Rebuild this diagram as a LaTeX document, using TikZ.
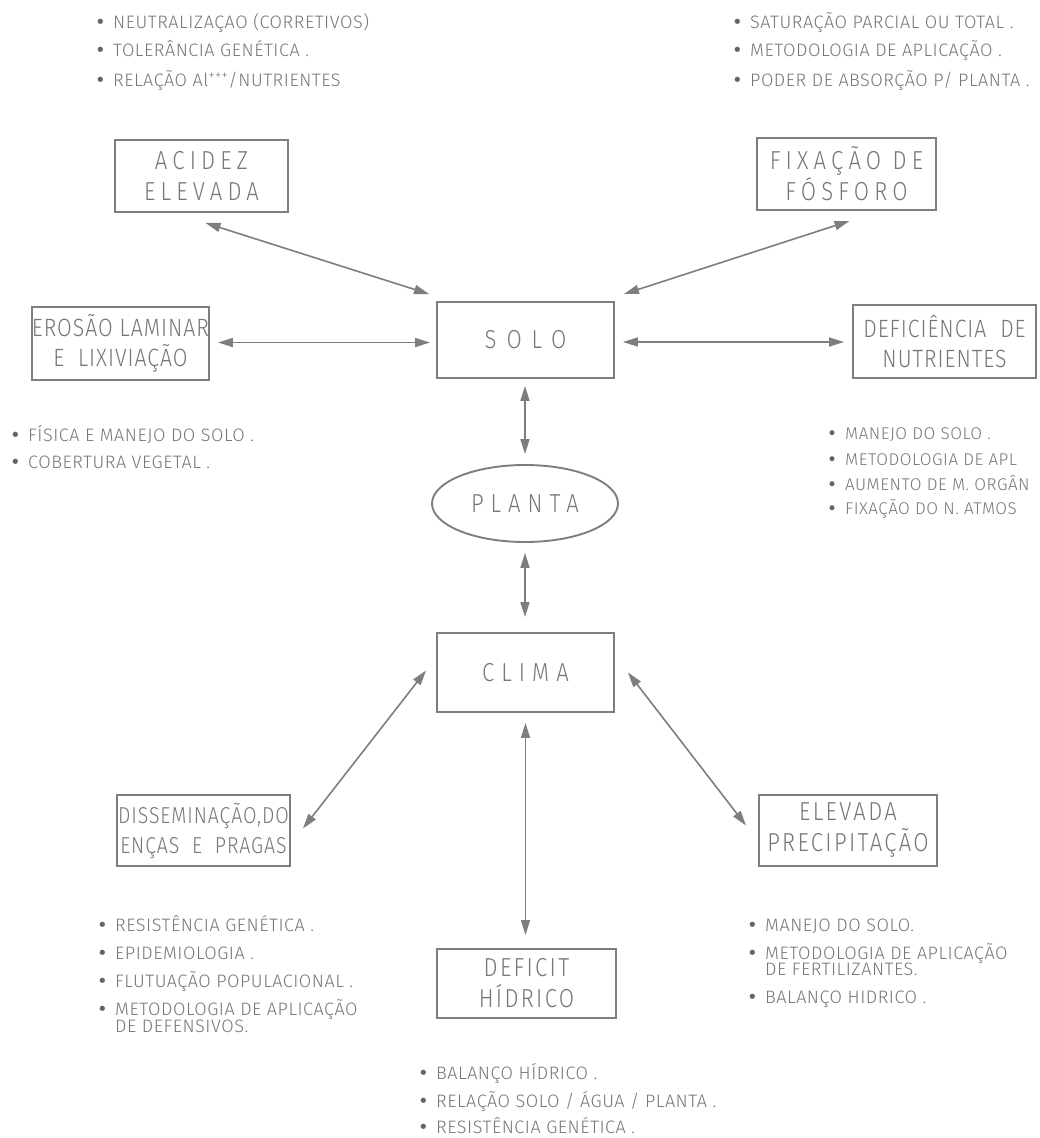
\documentclass[tikz,border=0pt]{standalone}
\usepackage{fontspec}
\setmainfont{Fira Sans Light}[LetterSpace=3]
\newfontfamily\boxfont{Fira Sans Light}[FakeStretch=0.85,LetterSpace=20]
\newfontfamily\midfont{Fira Sans Light}[FakeStretch=0.85,LetterSpace=27]
\newfontfamily\widefont{Fira Sans Light}[FakeStretch=0.85,LetterSpace=38]
\newfontfamily\tightfont{Fira Sans Light}[FakeStretch=0.85,LetterSpace=4]
\newfontfamily\lowfont{Fira Sans Light}[FakeStretch=0.85,LetterSpace=9]
\newfontfamily\dotfont{DejaVu Sans}
\usetikzlibrary{arrows.meta,shapes.geometric}
\definecolor{ink}{HTML}{767676}
\definecolor{lin}{HTML}{7E7E7E}
\newcommand\lbul{\makebox[17pt][l]{\dotfont\color{ink!85!black}\kern-1pt•}}
\begin{document}
\begin{tikzpicture}[x=1pt,y=-1pt,
  bx/.style={draw=lin, line width=1.9pt, inner sep=0pt, align=center, text=ink,
    font=\boxfont\fontsize{26}{31}\selectfont},
  tbx/.style={bx, font=\tightfont\fontsize{25}{30}\selectfont},
  lbx/.style={bx, font=\lowfont\fontsize{26}{31}\selectfont},
  arr/.style={draw=lin, line width=1.6pt,
    {Triangle[length=15pt,width=9pt]}-{Triangle[length=15pt,width=9pt]}},
  li/.style={anchor=base west, inner sep=0pt, text=ink,
    font=\fontsize{18}{20}\selectfont},
  lis/.style={li, font=\fontsize{17}{20}\selectfont}]
\useasboundingbox[fill=white] (0,0) rectangle (1039,1138);

% top-left list
\node[li] (tl1) at (96,28) {\lbul NEUTRALIZAÇAO (CORRETIVOS)};
\node[li] (tl2) at (96,56) {\lbul TOLERÂNCIA GENÉTICA .};
\node[li] (tl3) at (96,86) {\lbul RELAÇÃO Al\textsuperscript{+++}/NUTRIENTES};
% top-right list
\node[li] (tr1) at (733,28) {\lbul SATURAÇÃO PARCIAL OU TOTAL .};
\node[li] (tr2) at (733,56) {\lbul METODOLOGIA DE APLICAÇÃO .};
\node[li] (tr3) at (733,86) {\lbul PODER DE ABSORÇÃO P/ PLANTA .};
% mid-left list
\node[li] (ml1) at (11,441) {\lbul FÍSICA E MANEJO DO SOLO .};
\node[li] (ml2) at (11,468) {\lbul COBERTURA VEGETAL .};
% mid-right list
\node[lis] (mr1) at (828,439) {\lbul MANEJO DO SOLO .};
\node[lis] (mr2) at (828,465) {\lbul METODOLOGIA DE APL};
\node[lis] (mr3) at (828,490) {\lbul AUMENTO DE M. ORGÂN};
\node[lis] (mr4) at (828,514) {\lbul FIXAÇÃO DO N. ATMOS};
% bottom-left list
\node[li] (bl1) at (98,931) {\lbul RESISTÊNCIA GENÉTICA .};
\node[li] (bl2) at (98,959) {\lbul EPIDEMIOLOGIA .};
\node[li] (bl3) at (98,987) {\lbul FLUTUAÇÃO POPULACIONAL .};
\node[li] (bl4) at (98,1015) {\lbul METODOLOGIA DE APLICAÇÃO};
\node[li] (bl5) at (115,1032) {DE DEFENSIVOS.};
% bottom-right list
\node[li] (br1) at (748,931) {\lbul MANEJO DO SOLO.};
\node[li] (br2) at (748,959) {\lbul METODOLOGIA DE APLICAÇÃO};
\node[li] (br3) at (765,975) {DE FERTILIZANTES.};
\node[li] (br4) at (748,1003) {\lbul BALANÇO HIDRICO .};
% bottom-middle list
\node[li] (bm1) at (419,1079) {\lbul BALANÇO HÍDRICO .};
\node[li] (bm2) at (419,1107) {\lbul RELAÇÃO SOLO / ÁGUA / PLANTA .};
\node[li] (bm3) at (419,1133) {\lbul RESISTÊNCIA GENÉTICA .};

% boxes
\node[bx, minimum width=173pt, minimum height=72pt] (acidez) at (201.5,176) {ACIDEZ\\ELEVADA};
\node[bx, minimum width=179pt, minimum height=72pt] (fixacao) at (846.5,174) {FIXAÇÃO DE\\FÓSFORO};
\node[tbx, minimum width=177pt, minimum height=73pt] (erosao) at (120.5,343.5) {EROSÃO LAMINAR\\E\ \ LIXIVIAÇÃO};
\node[bx, font=\widefont\fontsize{26}{31}\selectfont, minimum width=177pt, minimum height=76pt] (solo) at (525.5,340) {SOLO};
\node[tbx, minimum width=183pt, minimum height=73pt] (defic) at (944.5,341.5) {DEFICIÊNCIA\ \ DE\\NUTRIENTES};
\node[bx, font=\midfont\fontsize{26}{31}\selectfont, ellipse, minimum width=186pt, minimum height=77pt] (planta) at (525,503.5) {PLANTA};
\node[bx, font=\midfont\fontsize{26}{31}\selectfont, minimum width=177pt, minimum height=79pt] (clima) at (525.5,672.5) {CLIMA};
\node[tbx, font=\tightfont\fontsize{23}{30}\selectfont, minimum width=173pt, minimum height=71pt] (dissem) at (203.5,830.5) {DISSEMINAÇÃO,DO\\ENÇAS\ \ E\ \ PRAGAS};
\node[lbx, minimum width=178pt, minimum height=71pt] (elev) at (848,830.5) {ELEVADA\\PRECIPITAÇÃO};
\node[lbx, minimum width=179pt, minimum height=69pt] (deficit) at (526.5,983.5) {DEFICIT\\HÍDRICO};

% connectors
\draw[arr] ([shift={(4,10)}]acidez.south) -- ([shift={(-7,-7)}]solo.north west);
\draw[arr] ([shift={(3,10)}]fixacao.south) -- ([shift={(9,-7)}]solo.north east);
\draw[arr] ([shift={(8,-1)}]erosao.east) -- ([shift={(-6,2.5)}]solo.west);
\draw[arr] ([shift={(8,2)}]solo.east) -- ([shift={(-8,0.5)}]defic.west);
\draw[arr] ([shift={(-0.5,7)}]solo.south) -- ([shift={(0,-10)}]planta.north);
\draw[arr] ([shift={(0,10)}]planta.south) -- ([shift={(-0.5,-15)}]clima.north);
\draw[arr] ([shift={(-10,-2)}]clima.west) -- ([shift={(12,-2)}]dissem.east);
\draw[arr] ([shift={(13,0)}]clima.east) -- ([shift={(-12,-5)}]elev.west);
\draw[arr] ([shift={(0,10)}]clima.south) -- ([shift={(-1,-13)}]deficit.north);
\end{tikzpicture}
\end{document}
